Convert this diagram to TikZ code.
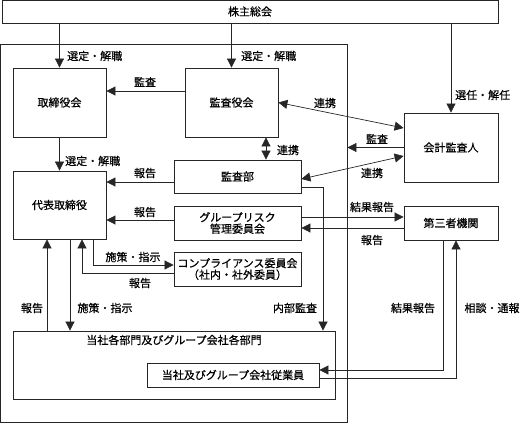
\documentclass[tikz,border=0pt]{standalone}
\usepackage{fontspec}
\setmainfont[FakeBold=0.6]{Noto Sans CJK JP}
\usetikzlibrary{arrows.meta}
\colorlet{edge}{black!85}

\tikzset{
  box/.style={draw=edge, line width=0.8pt, inner sep=0pt, align=center},
  conn/.style={draw=edge, line width=0.7pt, -{Triangle[length=9pt,width=9pt]}},
  both/.style={conn, {Triangle[length=9pt,width=9pt]}-{Triangle[length=9pt,width=9pt]}},
  lbl/.style={inner sep=0pt}
}

\begin{document}
\begin{tikzpicture}[x=1pt, y=-1pt, font=\fontsize{11}{13.5}\selectfont]
\useasboundingbox (0,0) rectangle (522,423);

% boxes
\node[box, minimum width=496, minimum height=23] (soukai) at (250,11.5) {株主総会};
\node[box, minimum width=347, minimum height=378] (kaisha) at (173.5,233) {};
\node[box, minimum width=93, minimum height=69] (torishimari) at (59.5,102.5) {取締役会};
\node[box, minimum width=93, minimum height=69] (kansayaku) at (231.5,102.5) {監査役会};
\node[box, minimum width=94, minimum height=69] (kaikei) at (451,147.5) {会計監査人};
\node[box, minimum width=127, minimum height=33] (kansabu) at (237.5,176.5) {監査部};
\node[box, minimum width=93, minimum height=68] (daihyo) at (59.5,205) {代表取締役};
\node[box, minimum width=127, minimum height=34] (risk) at (237.5,223) {グループリスク\\[-2pt]管理委員会};
\node[box, minimum width=94, minimum height=34] (daisan) at (451,223) {第三者機関};
\node[box, minimum width=127, minimum height=34] (comp) at (237.5,269) {コンプライアンス委員会\\[-2pt]（社内・社外委員）};
\node[box, minimum width=322, minimum height=68] (bumon) at (174,365) {};
\node[lbl] (bumontxt) at (174,340) {当社各部門及びグループ会社各部門};
\node[box, minimum width=172, minimum height=24] (jugyoin) at (233,375) {当社及びグループ会社従業員};

% from the shareholders
\draw[conn] (torishimari.north |- soukai.south) -- (torishimari.north);
\draw[conn] (kansayaku.north |- soukai.south) -- (kansayaku.north);
\draw[conn] (kaikei.north |- soukai.south) -- (kaikei.north);

% audit side
\draw[conn] ([yshift=11.5pt]kansayaku.west) -- (torishimari.east |- 0,91);
\draw[both] (kansayaku.east) -- ([yshift=19.5pt]kaikei.west);
\draw[conn] (kaikei.west) -- (kaisha.east |- kaikei.west);
\draw[both] ([yshift=-8.5pt]kaikei.west) -- ([yshift=-2.5pt]kansabu.east);
\draw[both] ([xshift=34.5pt]kansayaku.south) -- ([xshift=28.5pt]kansabu.north);
\draw[conn] (torishimari.south) -- (daihyo.north);
\draw[conn] ([yshift=-5.5pt]kansabu.west) -- (daihyo.east |- 0,182);
\draw[conn] ([yshift=-10.5pt]kansabu.east) -| ([xshift=149pt]bumon.north);

% risk committee and third party
\draw[conn] ([yshift=3pt]risk.west) -- (daihyo.east |- 0,220);
\draw[conn] ([yshift=6pt]risk.east) -- (daisan.west |- 0,217);
\draw[conn] ([yshift=-5pt]daisan.west) -- (risk.east |- 0,228);
\draw[conn] ([xshift=-8pt]daisan.south) |- ([yshift=5pt]jugyoin.east);
\draw[conn] ([yshift=-3pt]jugyoin.east) -| ([xshift=5pt]daisan.south);

% compliance and departments
\draw[conn] ([xshift=33.5pt]daihyo.south) |- ([yshift=4pt]comp.west);
\draw[conn] ([yshift=-4pt]comp.west) -| ([xshift=22.5pt]daihyo.south);
\draw[conn] ([xshift=-12.5pt]daihyo.south |- bumon.north) -- ([xshift=-12.5pt]daihyo.south);
\draw[conn] ([xshift=10.5pt]daihyo.south) -- ([xshift=10.5pt]daihyo.south |- bumon.north);

% labels
\node[lbl, anchor=west] (l1) at (67,56) {選定・解職};
\node[lbl, anchor=west] (l2) at (241,56) {選定・解職};
\node[lbl, anchor=west] (l3) at (455,95) {選任・解任};
\node[lbl] (l4) at (145,82) {監査};
\node[lbl] (l5) at (325,103) {連携};
\node[lbl] (l6) at (377,139) {監査};
\node[lbl] (l7) at (288,150) {連携};
\node[lbl, anchor=west] (l8) at (65,161) {選定・解職};
\node[lbl] (l9) at (145,173) {報告};
\node[lbl] (l10) at (372,173) {連携};
\node[lbl] (l11) at (145,212) {報告};
\node[lbl] (l12) at (372,207) {結果報告};
\node[lbl] (l13) at (372,240) {報告};
\node[lbl] (l14) at (133,257) {施策・指示};
\node[lbl] (l15) at (140,283) {報告};
\node[lbl] (l16) at (32,308) {報告};
\node[lbl] (l17) at (105,308) {施策・指示};
\node[lbl] (l18) at (295,308) {内部監査};
\node[lbl] (l19) at (413,308) {結果報告};
\node[lbl] (l20) at (492,308) {相談・通報};

\end{tikzpicture}
\end{document}
